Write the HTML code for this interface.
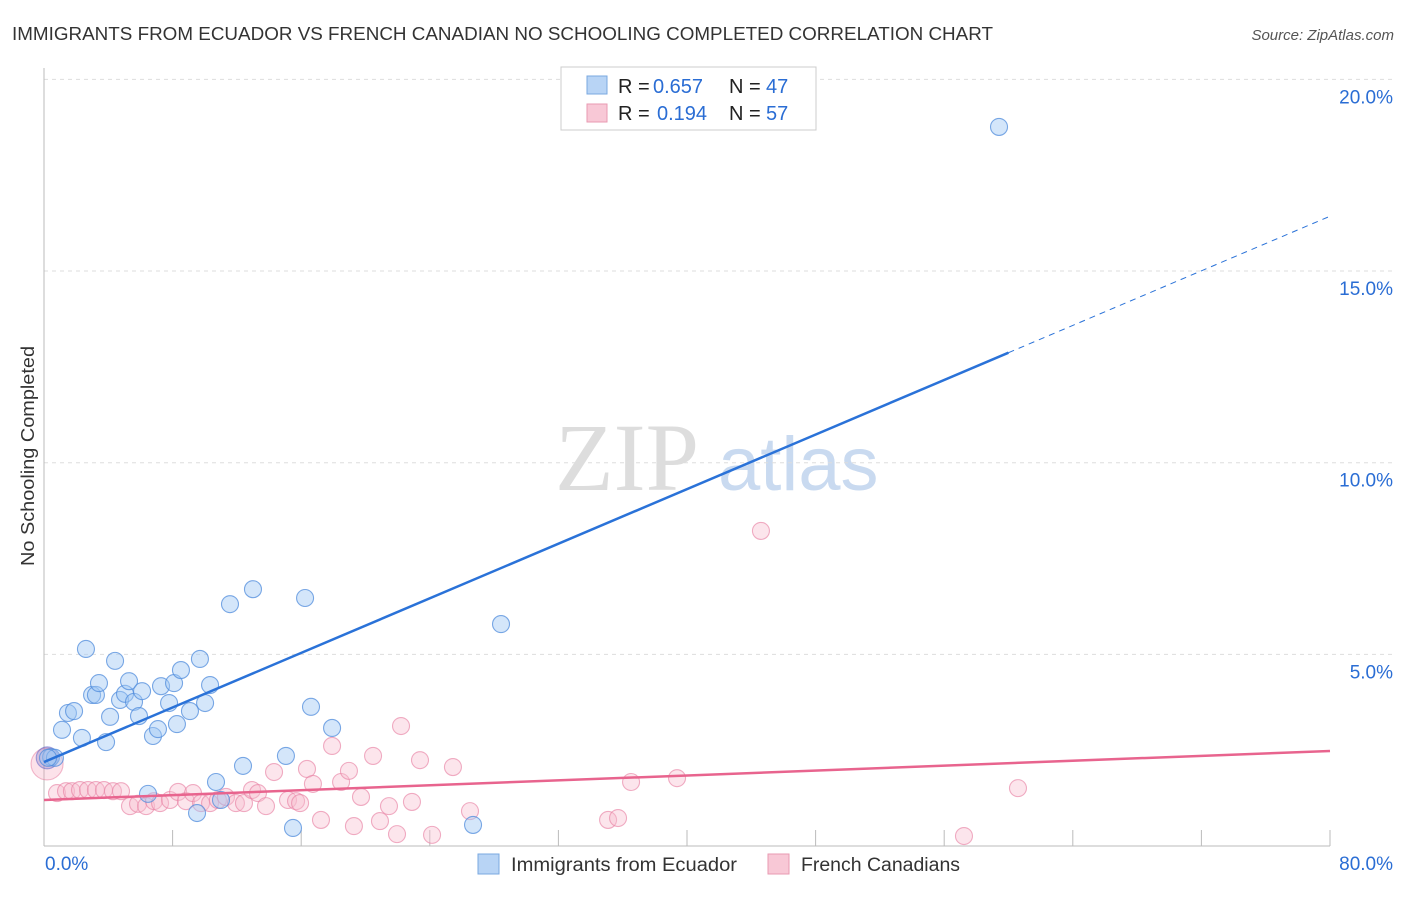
<!DOCTYPE html>
<html><head><meta charset="utf-8"><style>
body{margin:0;background:#fff;font-family:"Liberation Sans",sans-serif;}
</style></head><body>
<svg width="1406" height="892" xmlns="http://www.w3.org/2000/svg">
<text x="12" y="40" font-size="18" fill="#333" textLength="981" lengthAdjust="spacingAndGlyphs">IMMIGRANTS FROM ECUADOR VS FRENCH CANADIAN NO SCHOOLING COMPLETED CORRELATION CHART</text>
<text x="1394" y="40" font-size="15" fill="#555" font-style="italic" text-anchor="end">Source: ZipAtlas.com</text>
<text x="0" y="0" transform="translate(34,456) rotate(-90)" font-size="18" fill="#333" text-anchor="middle" textLength="220" lengthAdjust="spacingAndGlyphs">No Schooling Completed</text>
<g>
<text x="555" y="490" font-size="96" font-family="Liberation Serif,serif" fill="#ddd">ZIP</text>
<text x="718" y="490" font-size="76" fill="#c9daf0">atlas</text>
</g>
<g id="grid"></g><g id="axes"></g><g id="marks"></g>
<g>
<rect x="561" y="67" width="255" height="63" fill="#fff" stroke="#ccc"/>
<rect x="587" y="76" width="20" height="18" fill="#b8d4f5" stroke="#7aa8e0"/>
<rect x="587" y="104" width="20" height="18" fill="#f8c8d6" stroke="#e89ab2"/>
<text x="618" y="93" font-size="20" fill="#222">R =</text><text x="653" y="93" font-size="20" fill="#2a6dd4">0.657</text>
<text x="729" y="93" font-size="20" fill="#222">N =</text><text x="766" y="93" font-size="20" fill="#2a6dd4">47</text>
<text x="618" y="120" font-size="20" fill="#222">R =</text><text x="657" y="120" font-size="20" fill="#2a6dd4">0.194</text>
<text x="729" y="120" font-size="20" fill="#222">N =</text><text x="766" y="120" font-size="20" fill="#2a6dd4">57</text>
</g>
<g>
<rect x="478" y="854" width="21" height="20" fill="#b8d4f5" stroke="#7aa8e0"/>
<text x="511" y="871" font-size="19" fill="#333" textLength="226" lengthAdjust="spacingAndGlyphs">Immigrants from Ecuador</text>
<rect x="768" y="854" width="21" height="20" fill="#f8c8d6" stroke="#e89ab2"/>
<text x="801" y="871" font-size="19" fill="#333" textLength="159" lengthAdjust="spacingAndGlyphs">French Canadians</text>
</g>
</svg>
<script>
const blueX=[0.44,0.68,1.12,2.36,1.49,1.87,2.61,2.99,3.23,3.42,3.86,4.11,4.42,4.73,5.04,5.29,5.6,5.91,6.1,6.78,7.09,7.28,7.78,8.09,8.27,8.52,9.08,9.7,10.02,10.33,6.47,9.52,10.7,11.01,11.57,12.38,13.0,15.05,15.49,16.24,16.61,17.92,26.69,28.43,59.41,0.25];
const blueY=[2.32,2.30,3.03,2.82,3.47,3.52,5.14,3.94,3.94,4.25,2.71,3.37,4.83,3.81,3.97,4.30,3.76,3.39,4.04,2.87,3.05,4.17,3.73,4.25,3.18,4.59,3.52,4.88,3.73,4.20,1.36,0.86,1.67,1.20,6.31,2.09,6.70,2.35,0.47,6.47,3.63,3.08,0.55,5.79,18.76,2.30];
const pinkX=[0.81,1.37,1.74,2.24,2.74,3.23,3.73,4.29,4.79,5.35,5.85,6.35,6.84,7.22,7.84,8.34,8.83,9.27,9.77,10.33,10.82,11.32,11.94,12.44,12.94,13.31,13.81,14.31,15.18,15.68,15.93,16.36,16.73,17.23,17.92,18.48,18.97,19.28,19.72,20.47,20.9,21.46,21.96,22.21,22.89,23.39,24.14,25.44,26.5,35.09,35.71,36.52,39.38,44.6,57.23,60.59];
const pinkY=[1.38,1.43,1.43,1.46,1.46,1.46,1.46,1.43,1.43,1.04,1.10,1.04,1.17,1.12,1.20,1.41,1.17,1.38,1.12,1.12,1.20,1.28,1.12,1.12,1.46,1.38,1.04,1.93,1.20,1.17,1.12,2.01,1.62,0.68,2.61,1.67,1.96,0.52,1.28,2.35,0.65,1.04,0.31,3.13,1.15,2.24,0.29,2.06,0.91,0.68,0.73,1.67,1.77,8.22,0.26,1.51];
const bigBlue=[0.2,2.3], bigPink=[0.19,2.14];
const blueTrend=[2.19,0.178], pinkTrend=[1.20,0.016];
const yTicks=[5,10,15,20], yTickLabels=["5.0%","10.0%","15.0%","20.0%"];
const xTicks=[0,8,16,24,32,40,48,56,64,72,80];
const NS='http://www.w3.org/2000/svg';
const X0=44,X1=1330,Y0=846,PY=38.33;
const sx=v=>X0+(X1-X0)*v/80, sy=v=>Y0-v*PY;
function mk(t,a,p){const e=document.createElementNS(NS,t);for(const k in a)e.setAttribute(k,a[k]);document.getElementById(p).appendChild(e);return e;}
yTicks.forEach((t,i)=>{
 const l=mk('line',{x1:X0,x2:X1+65,y1:sy(t),y2:sy(t),stroke:'#ddd','stroke-dasharray':'4,4'},'grid');
 
 
 const tx=mk('text',{x:1393,y:sy(t)+24,'font-size':19,fill:'#2a6dd4','text-anchor':'end'},'axes');
 tx.textContent=yTickLabels[i];
 
 
});
const ya=mk('line',{x1:X0,x2:X0,y1:68,y2:Y0,stroke:'#bbb'},'axes');


const xa=mk('line',{x1:X0,x2:X1,y1:Y0,y2:Y0,stroke:'#bbb'},'axes');


xTicks.forEach(t=>{
 const l=mk('line',{x1:sx(t),x2:sx(t),y1:Y0-16,y2:Y0,stroke:'#bbb'},'axes');
 
 
});
const xl0=mk('text',{x:45,y:870,'font-size':19,fill:'#2a6dd4'},'axes');xl0.textContent='0.0%';


const xl1=mk('text',{x:1393,y:870,'font-size':19,fill:'#2a6dd4','text-anchor':'end'},'axes');xl1.textContent='80.0%';


function dot(x,y,r,fill,stroke,name){const c=mk('circle',{cx:sx(x),cy:sy(y),r:r,fill:fill,stroke:stroke,'stroke-width':1.1},'marks');
 
 }
dot(bigPink[0],bigPink[1],16,'rgba(244,160,185,0.3)','rgba(230,120,155,0.5)','french-point-large');
dot(bigBlue[0],bigBlue[1],11,'rgba(110,100,190,0.3)','rgba(80,90,200,0.5)','ecuador-point-large');
pinkX.forEach((x,i)=>dot(x,pinkY[i],8.5,'rgba(248,190,208,0.4)','rgba(232,130,165,0.65)','french-point'));
blueX.forEach((x,i)=>dot(x,blueY[i],8.5,'rgba(160,200,245,0.45)','rgba(80,140,220,0.75)','ecuador-point'));
const bt=v=>blueTrend[0]+blueTrend[1]*v, pt=v=>pinkTrend[0]+pinkTrend[1]*v;
const l1=mk('line',{x1:sx(0),y1:sy(bt(0)),x2:sx(60),y2:sy(bt(60)),stroke:'#2a72d8','stroke-width':2.5},'marks');


const l2=mk('line',{x1:sx(60),y1:sy(bt(60)),x2:sx(80),y2:sy(bt(80)),stroke:'#2a72d8','stroke-width':1,'stroke-dasharray':'6,5'},'marks');


const l3=mk('line',{x1:sx(0),y1:sy(pt(0)),x2:sx(80),y2:sy(pt(80)),stroke:'#e8648e','stroke-width':2.5},'marks');


</script>
</body></html>
